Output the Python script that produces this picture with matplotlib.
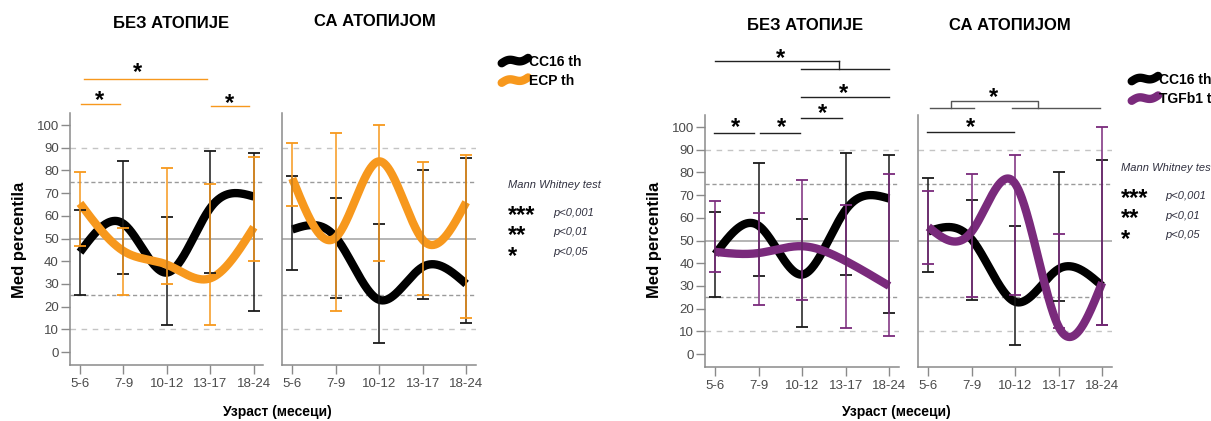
import numpy as np
import matplotlib
matplotlib.use("Agg")
import matplotlib.pyplot as plt
from matplotlib.lines import Line2D
from matplotlib.legend_handler import HandlerBase

plt.rcParams["font.family"] = ["Liberation Sans", "DejaVu Sans"]

ages = ["5-6", "7-9", "10-12", "13-17", "18-24"]

# CC16 (same in both panels)
cc16_bez = [44, 56.5, 35, 63.5, 68.5]
cc16_bez_lo = [25, 34.5, 12, 35, 18]
cc16_bez_hi = [62.5, 84, 59.5, 88.5, 87.5]
cc16_sa = [54, 50.5, 23, 37.5, 30]
cc16_sa_lo = [36, 24, 4, 23.5, 13]
cc16_sa_hi = [77.5, 68, 56.5, 80, 85.5]

# ECP
ecp_bez = [65.5, 44.5, 38.5, 32.5, 55]
ecp_bez_lo = [46.5, 25, 30, 12, 40]
ecp_bez_hi = [79.5, 54.5, 81, 74, 86]
ecp_sa = [76.5, 50.5, 84, 49.5, 66]
ecp_sa_lo = [64.5, 18, 40, 25, 15]
ecp_sa_hi = [92, 96.5, 100, 83.5, 87]

# TGFb1
tgf_bez = [45, 44.5, 47.5, 41, 30]
tgf_bez_lo = [36, 21.5, 24, 11.5, 8]
tgf_bez_hi = [67.5, 62, 76.5, 65.5, 79.5]
tgf_sa = [56, 54, 75, 12, 31.5]
tgf_sa_lo = [39.5, 25, 26, 11.3, 13]
tgf_sa_hi = [71.7, 79.5, 87.5, 53, 100]

BLACK = "#000000"
ORANGE = "#F7981D"
PURPLE = "#7A2A7C"

W, H = 1211, 421
fig = plt.figure(figsize=(W / 100, H / 100), dpi=100)


def smooth(y, n=300):
    # natural cubic spline through the points
    y = np.asarray(y, float)
    k = len(y)
    A = np.zeros((k, k))
    r = np.zeros(k)
    A[0, 0] = A[-1, -1] = 1
    for i in range(1, k - 1):
        A[i, i - 1:i + 2] = [1, 4, 1]
        r[i] = 6 * (y[i + 1] - 2 * y[i] + y[i - 1])
    M = np.linalg.solve(A, r)
    xs = np.linspace(0, k - 1, n)
    i = np.minimum(xs.astype(int), k - 2)
    t = xs - i
    ys = (y[i] * (1 - t) + y[i + 1] * t
          + ((1 - t) ** 3 - (1 - t)) * M[i] / 6 + (t ** 3 - t) * M[i + 1] / 6)
    return xs, ys


def make_ax(left_px, top_px, ylabels):
    ax = fig.add_axes([left_px / W, 1 - (top_px + 252) / H, 193.4 / W, 252 / H])
    ax.set_xlim(-0.23, 4.22)
    ax.set_ylim(-5.7, 105.3)
    for s in ["top", "right"]:
        ax.spines[s].set_visible(False)
    for s in ["left", "bottom"]:
        ax.spines[s].set_color("#8a8a8a")
        ax.spines[s].set_linewidth(1.1)
    ax.set_xticks(range(len(ages)))
    ax.set_xticklabels(ages)
    ax.set_yticks(range(0, 101, 10))
    ax.tick_params(direction="out", length=6.5, width=1, color="#8a8a8a",
                   labelcolor="#4a4a4a", labelsize=9.5)
    ax.tick_params(axis="x", pad=3)
    ax.tick_params(axis="y", pad=1.5)
    if not ylabels:
        ax.tick_params(axis="y", left=False, labelleft=False)
    ax.axhline(50, color="#a8a8a8", lw=1.2, zorder=1)
    for v in (25, 75):
        ax.axhline(v, color="#9a9a9a", lw=1, ls=(0, (3, 2)), zorder=1)
    for v in (10, 90):
        ax.axhline(v, color="#c4c4c4", lw=1, ls=(0, (4, 4)), zorder=1)
    return ax


def draw(ax, k, klo, khi, c, clo, chi, color):
    x = np.arange(len(ages))
    for vals, lo, hi, col in ((k, klo, khi, "#1a1a1a"), (c, clo, chi, color)):
        mid = (np.array(lo) + np.array(hi)) / 2
        err = (np.array(hi) - np.array(lo)) / 2
        ax.errorbar(x, mid, yerr=err, fmt="none", ecolor=col, elinewidth=1.1,
                    capsize=4, capthick=1.3, zorder=4)
    xs, ys = smooth(k)
    ax.plot(xs, ys, color=BLACK, lw=6, solid_capstyle="butt", zorder=3)
    xs, ys = smooth(c)
    ax.plot(xs, ys, color=color, lw=6, solid_capstyle="butt", zorder=3.5)


def star(ax, x, y):
    ax.text(x, y, "*", ha="center", va="center", fontsize=17, fontweight="bold",
            clip_on=False)


def bar(ax, x0, x1, y, color):
    ax.plot([x0, x1], [y, y], color=color, lw=1, clip_on=False)


class WaveHandler(HandlerBase):
    def create_artists(self, legend, orig_handle, xdescent, ydescent, width,
                       height, fontsize, trans):
        t = np.linspace(0, 1, 40)
        xx = -xdescent + width * t
        yy = -ydescent + height * (0.55 + 0.55 * (t - 0.5) + 0.2 * np.sin(2 * np.pi * t))
        ln = Line2D(xx, yy, color=orig_handle.get_color(), lw=6,
                    solid_capstyle="round", transform=trans)
        return [ln]


def legend(labels, colors, x_px, y_px):
    handles = [Line2D([], [], color=c, lw=6) for c in colors]
    fig.legend(handles, labels, loc="center left",
               bbox_to_anchor=(x_px / W, 1 - y_px / H), frameon=False,
               handler_map={Line2D: WaveHandler()}, handlelength=1.9,
               handletextpad=0.05, labelspacing=0.4, borderpad=0,
               borderaxespad=0, prop={"size": 10, "weight": "bold"})


def mann_whitney(x_px, y_px, px_px):
    fig.text(x_px / W, 1 - y_px / H, "Mann Whitney test", fontsize=8,
             style="italic", color="#30303f", va="center")
    # star column as one block so the rows keep their spacing
    fig.text(x_px / W, 1 - (y_px + 47 + 4) / H, "***\n**\n*", fontsize=17,
             fontweight="bold", va="center", ha="left", linespacing=0.88)
    fig.text(px_px / W, 1 - (y_px + 47.5) / H, "p<0,001\np<0,01\np<0,05",
             fontsize=8, style="italic", color="#30303f", va="center",
             ha="left", linespacing=2.22)


# ---- left panel: CC16 / ECP
ax1 = make_ax(70, 113, True)
draw(ax1, cc16_bez, cc16_bez_lo, cc16_bez_hi, ecp_bez, ecp_bez_lo, ecp_bez_hi, ORANGE)
ax2 = make_ax(282.3, 113, False)
draw(ax2, cc16_sa, cc16_sa_lo, cc16_sa_hi, ecp_sa, ecp_sa_lo, ecp_sa_hi, ORANGE)

bar(ax1, 0.09, 2.93, 120.4, ORANGE)
star(ax1, 1.33, 123.2)
bar(ax1, 0.02, 0.91, 109.4, ORANGE)
star(ax1, 0.44, 110.6)
bar(ax1, 3.01, 3.90, 108.2, ORANGE)
star(ax1, 3.44, 109.6)

# ---- right panel: CC16 / TGFb1
ax3 = make_ax(705.3, 115, True)
draw(ax3, cc16_bez, cc16_bez_lo, cc16_bez_hi, tgf_bez, tgf_bez_lo, tgf_bez_hi, PURPLE)
ax4 = make_ax(918.3, 115, False)
draw(ax4, cc16_sa, cc16_sa_lo, cc16_sa_hi, tgf_sa, tgf_sa_lo, tgf_sa_hi, PURPLE)

K = "#222222"
bar(ax3, -0.03, 0.90, 97.4, K)
star(ax3, 0.47, 99.6)
bar(ax3, 1.04, 1.96, 97.4, K)
star(ax3, 1.53, 99.6)
bar(ax3, 1.98, 2.92, 103.8, K)
star(ax3, 2.47, 106)
bar(ax3, 1.98, 3.99, 113.2, K)
star(ax3, 2.96, 114.7)
bar(ax3, 0.0, 2.85, 129, K)
ax3.plot([2.85, 2.85], [129, 125.7], color=K, lw=1, clip_on=False)
bar(ax3, 1.98, 3.99, 125.7, K)
star(ax3, 1.51, 130.4)

bar(ax4, -0.02, 1.98, 98.0, K)
star(ax4, 0.96, 99.6)
G = "#555555"
bar(ax4, 0.04, 1.05, 108.2, G)
bar(ax4, 1.93, 3.94, 108.2, G)
ax4.plot([0.52, 0.52, 2.53, 2.53], [108.2, 111.4, 111.4, 108.2], color=G, lw=1,
         clip_on=False)
star(ax4, 1.51, 113.2)

# titles and axis labels
for x, y, s in [(171, 23, "БЕЗ АТОПИЈЕ"), (375, 22, "СА АТОПИЈОМ"),
                (805, 26, "БЕЗ АТОПИЈЕ"), (1010, 25, "СА АТОПИЈОМ")]:
    fig.text(x / W, 1 - y / H, s, ha="center", va="center", fontsize=12,
             fontweight="bold")
for x in (19.5, 654):
    fig.text(x / W, 1 - 240 / H, "Med percentila", rotation=90, ha="center",
             va="center", fontsize=12, fontweight="bold")
for x in (277.5, 896):
    fig.text(x / W, 1 - 412 / H, "Узраст (месеци)", ha="center", va="center",
             fontsize=10, fontweight="bold")

legend(["CC16 th", "ECP th"], [BLACK, ORANGE], 501.7, 71.7)
legend(["CC16 th", "TGFb1 th"], [BLACK, PURPLE], 1131.7, 89.7)
mann_whitney(508.3, 185, 553)
mann_whitney(1120.7, 168, 1165)

fig.savefig("out.png", dpi=100)
